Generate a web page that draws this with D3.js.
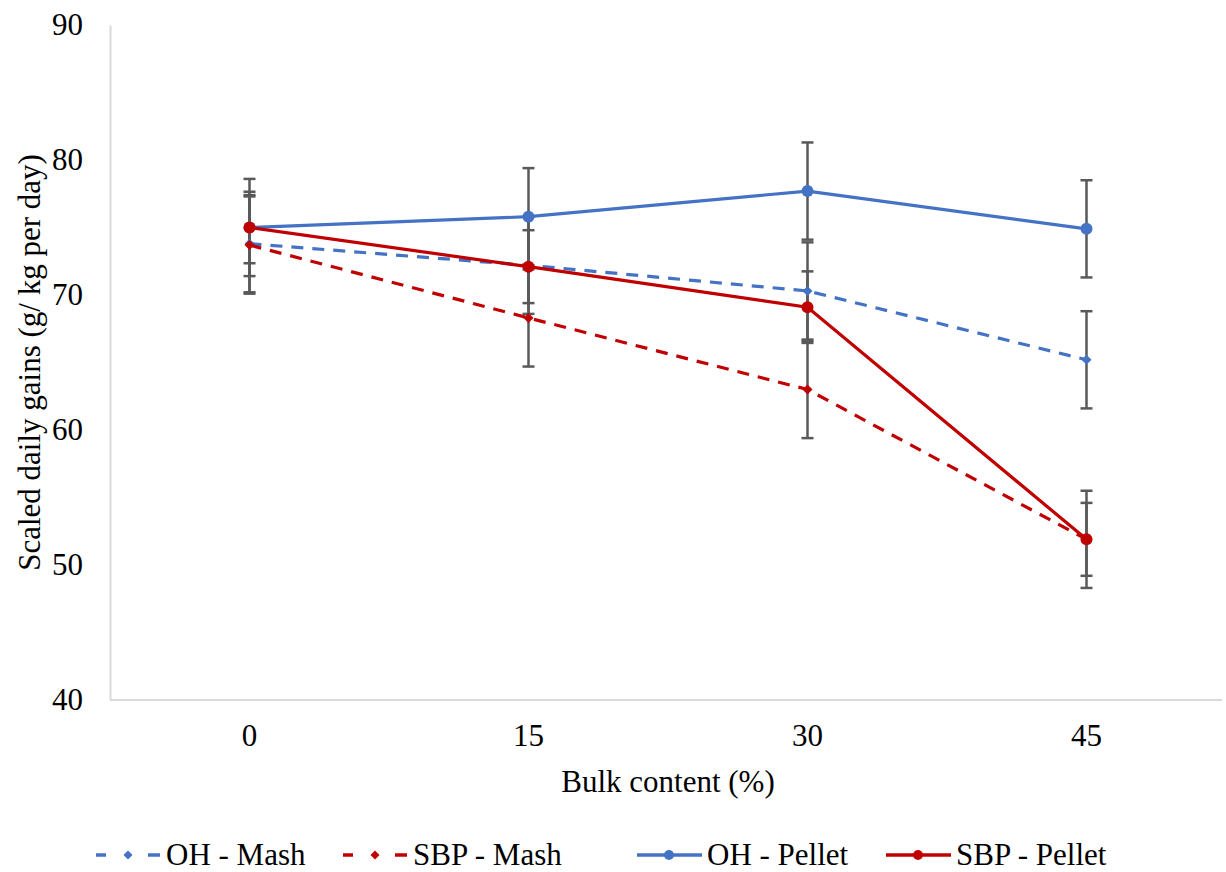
<!DOCTYPE html>
<html>
<head>
<meta charset="utf-8">
<script src="https://cdn.jsdelivr.net/npm/d3@7"></script>
<style>
  body { margin: 0; background: #fff; }
  text { fill: #000; }
</style>
</head>
<body>
<div id="main_svg"></div>
<script>
// data
var categories = ["0", "15", "30", "45"];
var yTicks = [40, 50, 60, 70, 80, 90];
var seriesNames = ["OH - Mash", "SBP - Mash", "OH - Pellet", "SBP - Pellet"];
var ohMash = [73.8, 72.2, 70.3, 65.2];
var sbpMash = [73.7, 68.3, 63.0, 51.9];
var ohPellet = [75.0, 75.8, 77.7, 74.9];
var sbpPellet = [75.0, 72.1, 69.1, 51.9];
var ohMashErr = [3.6, 3.6, 3.6, 3.6];
var sbpMashErr = [3.6, 3.6, 3.6, 3.6];
var ohPelletErr = [3.6, 3.6, 3.6, 3.6];
var sbpPelletErr = [2.65, 2.7, 2.65, 2.7];

var series = [
    {name: seriesNames[0], values: ohMash, err: ohMashErr, color: "#4472C4", dashed: true},
    {name: seriesNames[1], values: sbpMash, err: sbpMashErr, color: "#C00000", dashed: true},
    {name: seriesNames[2], values: ohPellet, err: ohPelletErr, color: "#4472C4", dashed: false},
    {name: seriesNames[3], values: sbpPellet, err: sbpPelletErr, color: "#C00000", dashed: false}
];

var font = "'Liberation Serif', 'Times New Roman', serif";

var width = 1226, height = 872;
var plot = {left: 110, right: 1226, top: 25, bottom: 700};

var svg = d3.select("#main_svg").append("svg")
    .attr("width", width)
    .attr("height", height);

// set the ranges
var x = d3.scaleBand()
    .domain(categories)
    .range([plot.left, plot.right])
    .padding(0);
var y = d3.scaleLinear()
    .domain([40, 90])
    .range([plot.bottom, plot.top]);

function cx(i) { return x(categories[i]) + x.bandwidth() / 2; }

// add the y Axis
var yAxis = svg.append("g")
    .attr("transform", "translate(" + plot.left + ",0)")
    .call(d3.axisLeft(y).tickValues(yTicks).tickSize(0).tickPadding(27).tickFormat(d3.format("d")));
yAxis.select(".domain").attr("stroke", "#d9d9d9").attr("stroke-width", 2);
yAxis.selectAll("text").attr("font-size", 31).attr("font-family", font).attr("fill", "#000");

// add the x Axis
var xAxis = svg.append("g")
    .attr("transform", "translate(0," + plot.bottom + ")")
    .call(d3.axisBottom(x).tickSize(0).tickPadding(24));
xAxis.select(".domain").attr("stroke", "#d9d9d9").attr("stroke-width", 2)
    .attr("d", "M" + plot.left + ",0H" + (plot.right - 4));
xAxis.selectAll("text").attr("font-size", 31).attr("font-family", font).attr("fill", "#000");

// axis titles
svg.append("text")
    .attr("x", (plot.left + plot.right) / 2)
    .attr("y", 792)
    .attr("text-anchor", "middle")
    .attr("font-size", 31)
    .attr("font-family", font)
    .text("Bulk content (%)");

svg.append("text")
    .attr("transform", "translate(40," + (plot.top + plot.bottom) / 2 + ") rotate(-90)")
    .attr("text-anchor", "middle")
    .attr("font-size", 31)
    .attr("font-family", font)
    .text("Scaled daily gains (g/ kg per day)");

// error bars
series.forEach(function (s) {
    var g = svg.append("g");
    s.values.forEach(function (v, i) {
        var lo = y(v - s.err[i]), hi = y(v + s.err[i]);
        g.append("line").attr("x1", cx(i)).attr("x2", cx(i)).attr("y1", lo).attr("y2", hi)
            .attr("stroke", "#595959").attr("stroke-width", 2.5);
        [lo, hi].forEach(function (yy) {
            g.append("line").attr("x1", cx(i) - 6).attr("x2", cx(i) + 6).attr("y1", yy).attr("y2", yy)
                .attr("stroke", "#595959").attr("stroke-width", 2.5);
        });
    });
});

// lines and markers
var line = d3.line()
    .x(function (d, i) { return cx(i); })
    .y(function (d) { return y(d); });

var diamond = d3.symbol().type(d3.symbolSquare).size(50);

series.forEach(function (s) {
    svg.append("path")
        .datum(s.values)
        .attr("fill", "none")
        .attr("stroke", s.color)
        .attr("stroke-width", 3.2)
        .attr("stroke-dasharray", s.dashed ? "12,9" : null)
        .attr("d", line);
    s.values.forEach(function (v, i) {
        if (s.dashed) {
            svg.append("path")
                .attr("d", diamond())
                .attr("transform", "translate(" + cx(i) + "," + y(v) + ") rotate(45)")
                .attr("fill", s.color);
        } else {
            svg.append("circle")
                .attr("cx", cx(i)).attr("cy", y(v)).attr("r", 6)
                .attr("fill", s.color);
        }
    });
});

// legend
var legendX = [96, 343, 637, 886];
var legendY = 855;
series.forEach(function (s, k) {
    var g = svg.append("g").attr("transform", "translate(" + legendX[k] + "," + legendY + ")");
    if (s.dashed) {
        g.append("line").attr("x1", 0).attr("x2", 10).attr("stroke", s.color).attr("stroke-width", 3.5);
        g.append("line").attr("x1", 52).attr("x2", 64).attr("stroke", s.color).attr("stroke-width", 3.5);
        g.append("path")
            .attr("d", d3.symbol().type(d3.symbolSquare).size(40)())
            .attr("transform", "translate(32,0) rotate(45)")
            .attr("fill", s.color);
    } else {
        g.append("line").attr("x1", 0).attr("x2", 65).attr("stroke", s.color).attr("stroke-width", 3.5);
        g.append("circle").attr("cx", 32).attr("cy", 0).attr("r", 5).attr("fill", s.color);
    }
    g.append("text")
        .attr("x", 70)
        .attr("y", 10)
        .attr("font-size", 31)
        .attr("font-family", font)
        .text(s.name);
});
</script>
</body>
</html>
